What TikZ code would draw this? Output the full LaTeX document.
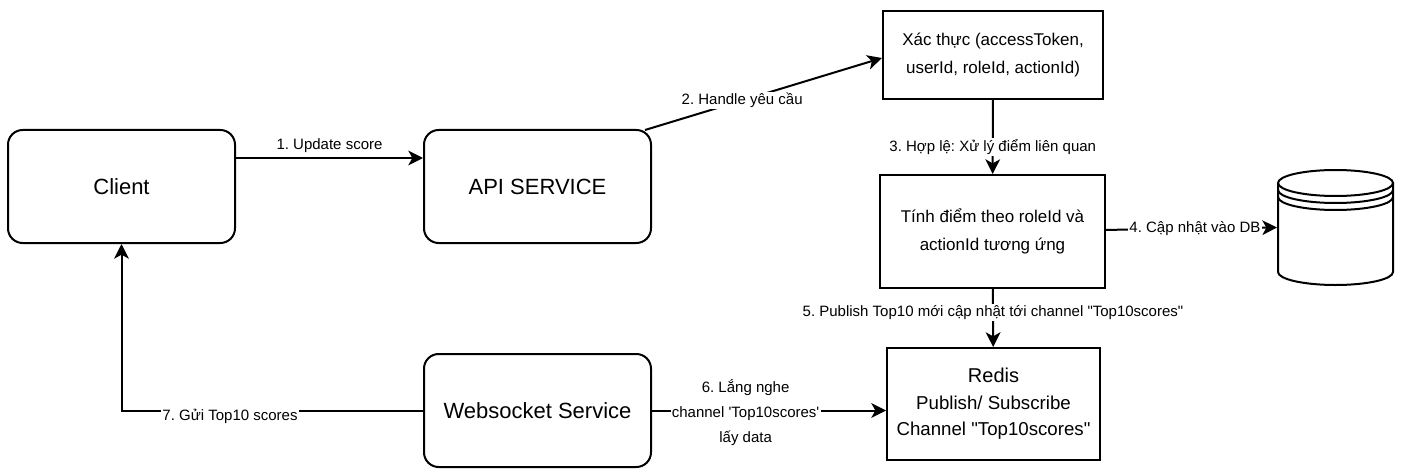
\documentclass[tikz,border=0pt]{standalone}
\usepackage{fontspec}
\setmainfont{Liberation Sans}
\newfontfamily\plainsans{Liberation Sans}
\usetikzlibrary{arrows.meta,positioning}
\frenchspacing
\newcommand{\dq}{{\plainsans\symbol{34}}}
\newcommand{\sq}{{\plainsans\symbol{39}}}

\begin{document}
\begin{tikzpicture}[x=0.75pt,y=-0.75pt,line width=1.5pt,
  >={Stealth[length=11pt,width=11pt,inset=3pt]},
  service/.style={draw,rounded corners=11pt,minimum width=170.25pt,minimum height=84.75pt,
    font=\fontsize{16.5}{19}\selectfont},
  stepbox/.style={draw,align=center,font=\fontsize{12.75}{20.5}\selectfont},
  lbl/.style={fill=white,inner sep=1pt,align=center,font=\fontsize{11.25}{18.5}\selectfont}]

\useasboundingbox (0,0) rectangle (1401,474);

% services
\node[service] (client) at (121.5,186.5) {Client};
\node[service] (api) at (537.5,186.5) {API SERVICE};
\node[service] (ws) at (537.5,410.5) {Websocket Service};

% processing steps
\node[stepbox,minimum width=165pt,minimum height=66pt] (xac) at (993,55) {Xác thực (accessToken,\\userId, roleId, actionId)};
\node[stepbox,minimum width=168.75pt,minimum height=84.75pt] (tinh) at (992.5,231.5) {Tính điểm theo roleId và\\actionId tương ứng};
\node[stepbox,minimum width=159.75pt,minimum height=84pt,font=\fontsize{14}{20}\selectfont] (redis) at (993.5,404)
  {{\fontsize{15}{20}\selectfont Redis}\\Publish/ Subscribe\\Channel \dq Top10scores\dq};

% database
\node[minimum width=86.25pt,minimum height=86.25pt,inner sep=0pt] (db) at (1335.5,227.5) {};
\draw (1335.5,183) ellipse [x radius=43.125pt,y radius=9.75pt];
\draw (1278,183) -- (1278,272) arc [start angle=180,end angle=360,x radius=43.125pt,y radius=9.75pt] -- (1393,183);
\draw (1278,190) arc [start angle=180,end angle=360,x radius=43.125pt,y radius=9.75pt];
\draw (1278,197) arc [start angle=180,end angle=360,x radius=43.125pt,y radius=9.75pt];

% flow
\draw[->] ([yshift=21.375pt]client.east) -- ([yshift=21.375pt]api.west)
  node[lbl,midway,above=2pt,fill=none] {1. Update score};
\draw[->] ([shift={(-7,1)}]api.north east) -- ([yshift=-2.25pt]xac.west)
  node[lbl,pos=0.41] {2. Handle yêu cầu};
\draw[->] (xac) -- (tinh) node[lbl,pos=0.64] {3. Hợp lệ: Xử lý điểm liên quan};
\draw[->] (tinh) -- (db.west) node[lbl,pos=0.52] {4. Cập nhật vào DB};
\draw[->] (tinh) -- (redis) node[lbl,pos=0.4] {5. Publish Top10 mới cập nhật tới channel \dq Top10scores\dq};
\draw[->] (ws.east) -- (ws.east -| redis.west)
  node[lbl,pos=0.4,yshift=-1.5pt] {6. Lắng nghe\\channel \sq Top10scores\sq\\lấy data};
\draw[->] (ws.west) -| (client.south) node[lbl,pos=0.32,yshift=-4.5pt] {7. Gửi Top10 scores};

\end{tikzpicture}
\end{document}
